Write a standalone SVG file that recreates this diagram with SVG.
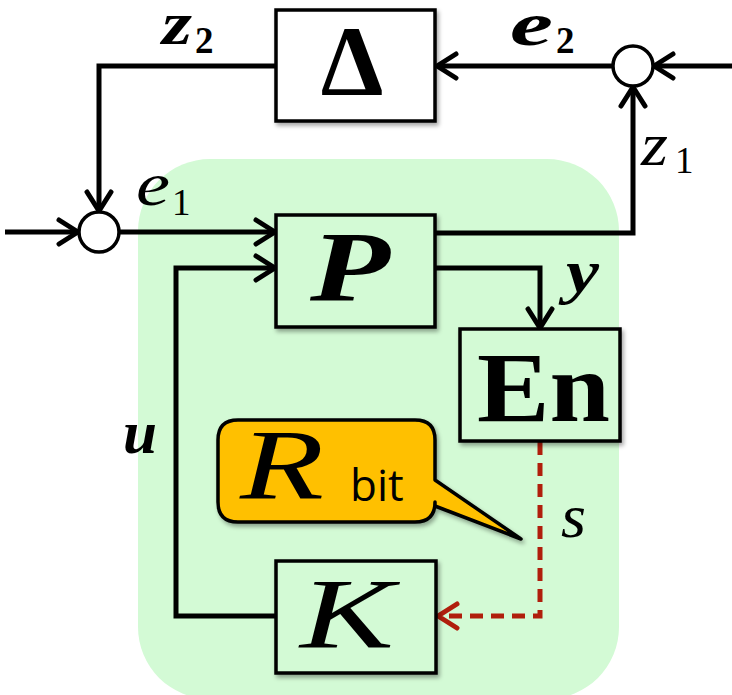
<svg xmlns="http://www.w3.org/2000/svg" width="732" height="695" viewBox="0 0 732 695">
<defs>
<filter id="sh" x="-10%" y="-10%" width="125%" height="125%">
<feDropShadow dx="2" dy="3" stdDeviation="2" flood-color="#000" flood-opacity="0.35"/>
</filter>
<marker id="ah" markerWidth="26" markerHeight="30" refX="22" refY="15" orient="auto" markerUnits="userSpaceOnUse">
<path d="M3,3 L22,15 L3,27" fill="none" stroke="#000" stroke-width="5" stroke-linecap="round" stroke-linejoin="round"/>
</marker>
<marker id="ahr" markerWidth="26" markerHeight="30" refX="22" refY="15" orient="auto" markerUnits="userSpaceOnUse">
<path d="M3,3 L22,15 L3,27" fill="none" stroke="#B01E0C" stroke-width="5" stroke-linecap="round" stroke-linejoin="round"/>
</marker>
</defs>
<style>
.box{stroke:#000;stroke-width:3.5;filter:url(#sh)}
.g{fill:#D3FAD5}
.w{fill:#fff}
.ln{fill:none;stroke:#000;stroke-width:5;stroke-linejoin:miter}
.arr{marker-end:url(#ah)}
.red{fill:none;stroke:#B01E0C;stroke-width:5;stroke-dasharray:13 8;marker-end:url(#ahr)}
.sum{fill:#fff;stroke:#000;stroke-width:3.5}
.mi{font-family:"Liberation Serif","Times New Roman",serif;font-style:italic;fill:#000}
.mb{font-family:"Liberation Serif","Times New Roman",serif;font-weight:bold;fill:#000}
.bi{font-weight:bold}
.big{font-size:100px}
.lab{font-size:62px}
.sub{font-family:"Liberation Serif","Times New Roman",serif;font-size:37px;fill:#000}
</style>
<rect id="region" x="138" y="159" width="481" height="540" rx="72" ry="72" fill="#D3FAD5"/>
<g id="connectors">
<line class="ln arr" x1="5" y1="232" x2="78" y2="232"/>
<line class="ln arr" x1="119" y1="232" x2="275" y2="232"/>
<polyline class="ln arr" points="276,66 99,66 99,211"/>
<line class="ln arr" x1="613" y1="66" x2="437" y2="66"/>
<line class="ln arr" x1="732" y1="66" x2="654" y2="66"/>
<polyline class="ln arr" points="435,233 633,233 633,87"/>
<polyline class="ln arr" points="435,268 540,268 540,328"/>
<polyline class="ln arr" points="276,616 176,616 176,268 275,268"/>
<polyline class="red" points="540,442 540,616 438,616"/>
</g>
<g id="sum1"><circle class="sum" cx="99" cy="232" r="20"/></g>
<g id="sum2"><circle class="sum" cx="633" cy="66" r="20"/></g>
<g id="delta">
<rect class="box w" x="276" y="10" width="159" height="111"/>
<text class="mb big" x="352" y="95" text-anchor="middle">Δ</text>
</g>
<g id="P">
<rect class="box g" x="276" y="215" width="159" height="112"/>
<text class="mi bi big" x="310" y="300" textLength="80" lengthAdjust="spacingAndGlyphs">P</text>
</g>
<g id="En">
<rect class="box g" x="460" y="329" width="160" height="112"/>
<text class="mb big" x="477" y="421" textLength="133" lengthAdjust="spacingAndGlyphs">En</text>
</g>
<g id="K">
<rect class="box g" x="276" y="561" width="160" height="112"/>
<text class="mi big" x="300" y="647" textLength="94" lengthAdjust="spacingAndGlyphs">K</text>
</g>
<g id="callout">
<path class="box" fill="#FFC000" stroke-linejoin="round" d="M238,420 H415 Q435,420 435,440 V480 L521,539 L435,506 V502 Q435,522 415,522 H238 Q218,522 218,502 V440 Q218,420 238,420 Z"/>
<text class="mi big" x="240" y="498" textLength="84" lengthAdjust="spacingAndGlyphs">R</text>
<text x="350" y="501" font-family="'Open Sans','Noto Sans',sans-serif" font-size="44" fill="#000">bit</text>
</g>
<g id="labels">
<text class="mi bi lab" x="162" y="44" textLength="30" lengthAdjust="spacingAndGlyphs">z</text>
<text class="sub" font-weight="bold" x="195" y="53">2</text>
<text class="mi bi lab" x="510" y="45" textLength="43" lengthAdjust="spacingAndGlyphs">e</text>
<text class="sub" font-weight="bold" x="556" y="53">2</text>
<text class="mi lab" x="641" y="165" textLength="27" lengthAdjust="spacingAndGlyphs">z</text>
<text class="sub" x="675" y="173">1</text>
<text class="mi lab" x="136" y="205" textLength="34" lengthAdjust="spacingAndGlyphs">e</text>
<text class="sub" x="172" y="215">1</text>
<text class="mi bi lab" x="566" y="292" textLength="33" lengthAdjust="spacingAndGlyphs">y</text>
<text class="mi bi lab" x="123" y="453" textLength="34" lengthAdjust="spacingAndGlyphs">u</text>
<text class="mi lab" x="561" y="537" textLength="25" lengthAdjust="spacingAndGlyphs">s</text>
</g>
</svg>
